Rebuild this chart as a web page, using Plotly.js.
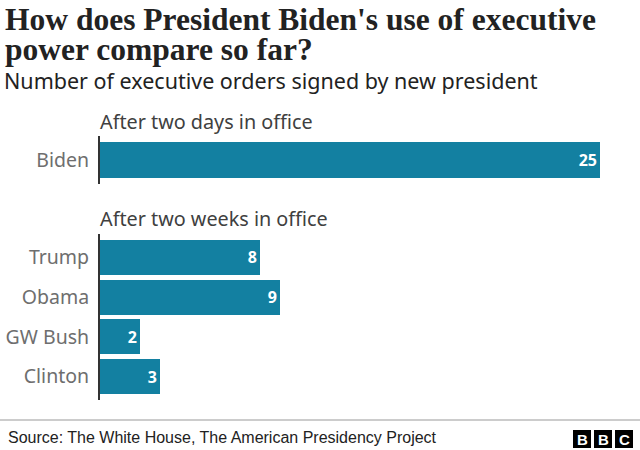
<!DOCTYPE html>
<html>
<head>
<meta charset="utf-8">
<script src="https://cdn.plot.ly/plotly-3.0.1.min.js"></script>
<style>html,body{margin:0;padding:0;background:#fff;}#chart{width:640px;height:450px;}</style>
</head>
<body>
<div id="chart"></div>
<script>
// Data
const daysCategories = ['Biden'];
const daysValues = [25];
const weeksCategories = ['Trump', 'Obama', 'GW Bush', 'Clinton'];
const weeksValues = [8, 9, 2, 3];

const W = 640, H = 450;
const px = x => x / W;
const py = y => 1 - y / H;
const barColor = '#1380A1';

const traces = [
  {
    type: 'bar', orientation: 'h',
    x: daysValues, y: daysCategories,
    xaxis: 'x', yaxis: 'y',
    marker: {color: barColor},
    width: 0.9,
    text: daysValues.map(String), textposition: 'inside', insidetextanchor: 'end',
    textfont: {family: 'Noto Sans', size: 16, color: '#ffffff', weight: 'bold'},
    hoverinfo: 'none', cliponaxis: false
  },
  {
    type: 'bar', orientation: 'h',
    x: weeksValues, y: weeksCategories,
    xaxis: 'x2', yaxis: 'y2',
    marker: {color: barColor},
    width: 0.875,
    text: weeksValues.map(String), textposition: 'inside', insidetextanchor: 'end',
    textfont: {family: 'Noto Sans', size: 16, color: '#ffffff', weight: 'bold'},
    hoverinfo: 'none', cliponaxis: false
  }
];

const yCommon = {
  showline: true, linecolor: '#333333', linewidth: 2,
  showgrid: false, zeroline: false, ticks: '',
  ticklabelstandoff: 5,
  tickfont: {family: 'Noto Sans', size: 19.5, color: '#6e6e6e'},
  fixedrange: true
};
const xCommon = {
  domain: [px(100), px(600)], range: [0, 25],
  visible: false, showgrid: false, zeroline: false, fixedrange: true
};

const titleFont = {family: 'Liberation Serif', size: 31.5, color: '#222222', weight: 'bold'};
const ann = (text, x, y, font, xanchor) => ({
  text, xref: 'paper', yref: 'paper', x: px(x), y: py(y),
  xanchor: xanchor || 'left', yanchor: 'middle', showarrow: false, font
});

const layout = {
  width: W, height: H,
  margin: {l: 0, r: 0, t: 0, b: 0},
  paper_bgcolor: '#ffffff', plot_bgcolor: '#ffffff',
  showlegend: false,
  bargap: 0,
  xaxis: Object.assign({}, xCommon, {anchor: 'y'}),
  xaxis2: Object.assign({}, xCommon, {anchor: 'y2'}),
  yaxis: Object.assign({}, yCommon, {
    domain: [py(184), py(136)], range: [0.6, -0.6], anchor: 'x'
  }),
  yaxis2: Object.assign({}, yCommon, {
    domain: [py(400), py(234)], range: [3.59, -0.59], anchor: 'x2'
  }),
  annotations: [
    ann("How does President Biden's use of executive", 3, 20, titleFont),
    ann('power compare so far?', 3, 49, titleFont),
    ann('Number of executive orders signed by new president', 2, 80,
        {family: 'Noto Sans', size: 21.5, color: '#222222'}),
    ann('After two days in office', 98, 121, {family: 'Noto Sans', size: 19.8, color: '#404040'}),
    ann('After two weeks in office', 98, 218, {family: 'Noto Sans', size: 19.8, color: '#404040'}),
    ann('Source: The White House, The American Presidency Project', 6, 437,
        {family: 'Liberation Sans', size: 16, color: '#222222'}),
    ann('B', 582, 439, {family: 'Liberation Sans', size: 15, color: '#ffffff', weight: 'bold'}, 'center'),
    ann('B', 603, 439, {family: 'Liberation Sans', size: 15, color: '#ffffff', weight: 'bold'}, 'center'),
    ann('C', 624, 439, {family: 'Liberation Sans', size: 15, color: '#ffffff', weight: 'bold'}, 'center')
  ],
  shapes: [
    {type: 'line', xref: 'paper', yref: 'paper', x0: 0, x1: 1, y0: py(420), y1: py(420),
     line: {color: '#999999', width: 1}},
    {type: 'rect', xref: 'paper', yref: 'paper', x0: px(573), x1: px(591), y0: py(448), y1: py(430),
     fillcolor: '#000000', line: {width: 0}},
    {type: 'rect', xref: 'paper', yref: 'paper', x0: px(594), x1: px(612), y0: py(448), y1: py(430),
     fillcolor: '#000000', line: {width: 0}},
    {type: 'rect', xref: 'paper', yref: 'paper', x0: px(615), x1: px(633), y0: py(448), y1: py(430),
     fillcolor: '#000000', line: {width: 0}}
  ]
};

Plotly.newPlot('chart', traces, layout, {displayModeBar: false, staticPlot: true});
</script>
</body>
</html>
